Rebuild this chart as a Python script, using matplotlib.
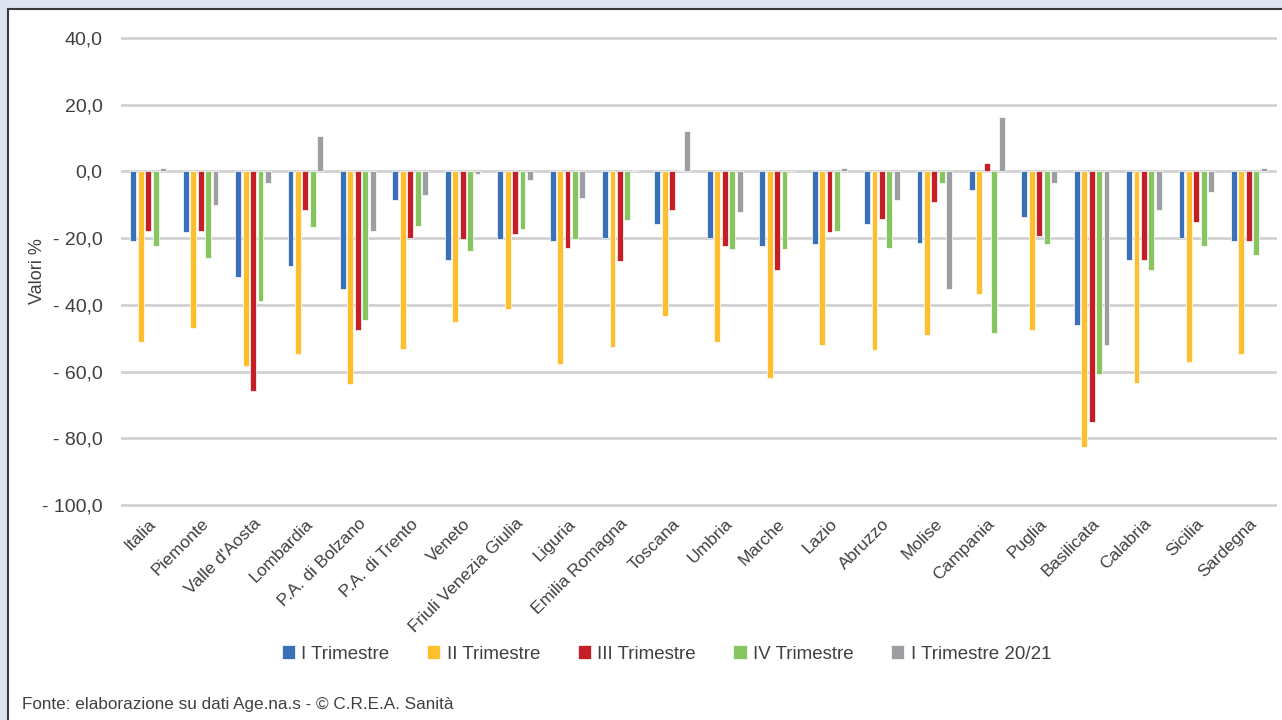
import matplotlib.pyplot as plt
import numpy as np
from matplotlib.patches import Rectangle
from matplotlib.ticker import FuncFormatter

plt.rcParams['font.family'] = ['Liberation Sans Narrow', 'Liberation Sans', 'DejaVu Sans']

regioni = ['Italia', 'Piemonte', "Valle d'Aosta", 'Lombardia', 'P.A. di Bolzano',
           'P.A. di Trento', 'Veneto', 'Friuli Venezia Giulia', 'Liguria',
           'Emilia Romagna', 'Toscana', 'Umbria', 'Marche', 'Lazio', 'Abruzzo',
           'Molise', 'Campania', 'Puglia', 'Basilicata', 'Calabria', 'Sicilia',
           'Sardegna']

trim_1 = [-20.8, -18.3, -31.6, -28.5, -35.2, -8.6, -26.5, -20.4, -20.9, -19.9, -15.8,
          -19.9, -22.4, -21.9, -15.8, -21.4, -5.5, -13.8, -45.9, -26.5, -19.9, -20.9]
trim_2 = [-51.0, -47.0, -58.2, -54.6, -63.8, -53.1, -45.0, -41.3, -57.7, -52.6, -43.4,
          -51.1, -61.8, -52.1, -53.6, -49.0, -36.7, -47.5, -82.7, -63.3, -57.2, -54.6]
trim_3 = [-17.8, -17.8, -65.9, -11.7, -47.5, -19.9, -20.4, -18.8, -23.0, -27.0, -11.7,
          -22.4, -29.6, -18.3, -14.3, -9.1, 2.6, -19.4, -75.1, -26.5, -15.3, -20.9]
trim_4 = [-22.4, -26.0, -38.8, -16.8, -44.4, -16.3, -24.0, -17.3, -20.4, -14.7, 0.5,
          -23.4, -23.4, -17.8, -22.9, -3.5, -48.5, -21.9, -60.8, -29.6, -22.4, -25.0]
trim_1_2021 = [1.0, -10.2, -3.5, 10.7, -17.8, -7.1, -0.9, -2.5, -8.1, 0.4, 12.2,
               -12.2, 0.0, 1.0, -8.6, -35.2, 16.4, -3.5, -52.1, -11.7, -6.1, 1.0]

serie = [trim_1, trim_2, trim_3, trim_4, trim_1_2021]
etichette = ['I Trimestre', 'II Trimestre', 'III Trimestre', 'IV Trimestre',
             'I Trimestre 20/21']
colori = ['#3a70b8', '#fdbf2d', '#c41f26', '#86c55f', '#9d9ea2']

testo = '#404040'

fig = plt.figure(figsize=(12.82, 7.2), dpi=100)
fig.patch.set_facecolor('#e0e3f0')
# white panel with dark frame, open at right and bottom
fig.patches.append(Rectangle((8 / 1282, -0.05), 1.1, 1 - 9 / 720 + 0.05,
                             transform=fig.transFigure, facecolor='white',
                             edgecolor='#3a3a3a', linewidth=1.5, zorder=-5))

ax = fig.add_axes([122 / 1282, 1 - 505 / 720, (1275 - 122) / 1282, (505 - 38) / 720])
ax.set_facecolor('none')
ax.set_zorder(2)

x = np.arange(len(regioni))
passo = 0.142
larghezza = 0.112
for i, (vals, lab, col) in enumerate(zip(serie, etichette, colori)):
    ax.bar(x + (i - 2) * passo, vals, width=larghezza, color=col, label=lab,
           edgecolor='white', linewidth=0.5, zorder=3)

ax.set_xlim(-0.5, len(regioni) - 0.5)
ax.set_ylim(-100, 40)
ticks = np.arange(-100, 41, 20)
ax.set_yticks(ticks)
for t in ticks:
    ax.axhline(t, color='#d2d2d2', linewidth=2, zorder=1, clip_on=False)


def formato(v, pos):
    s = f'{abs(v):.1f}'.replace('.', ',')
    return f'- {s}' if v < 0 else s


ax.yaxis.set_major_formatter(FuncFormatter(formato))
ax.tick_params(axis='y', length=0, pad=14, labelsize=14, labelcolor=testo)
ax.set_xticks(x)
ax.set_xticklabels(regioni, rotation=45, ha='right', va='top', rotation_mode='anchor')
ax.tick_params(axis='x', length=0, pad=8, labelsize=12.5, labelcolor=testo)
for s in ax.spines.values():
    s.set_visible(False)

ax.set_ylabel('Valori %', fontsize=13, color=testo)
ax.yaxis.set_label_coords(-0.066, 0.5)

fig.legend(loc='center', bbox_to_anchor=(0.52, 1 - 654 / 720), ncol=5, frameon=False,
           fontsize=13.5, labelcolor=testo, handlelength=0.7, handleheight=0.7,
           handletextpad=0.35, columnspacing=2.0)

fig.text(22 / 1282, 1 - 705 / 720, 'Fonte: elaborazione su dati Age.na.s - © C.R.E.A. Sanità',
         fontsize=12.3, color=testo, ha='left', va='center')

fig.savefig('out.png', dpi=100)
